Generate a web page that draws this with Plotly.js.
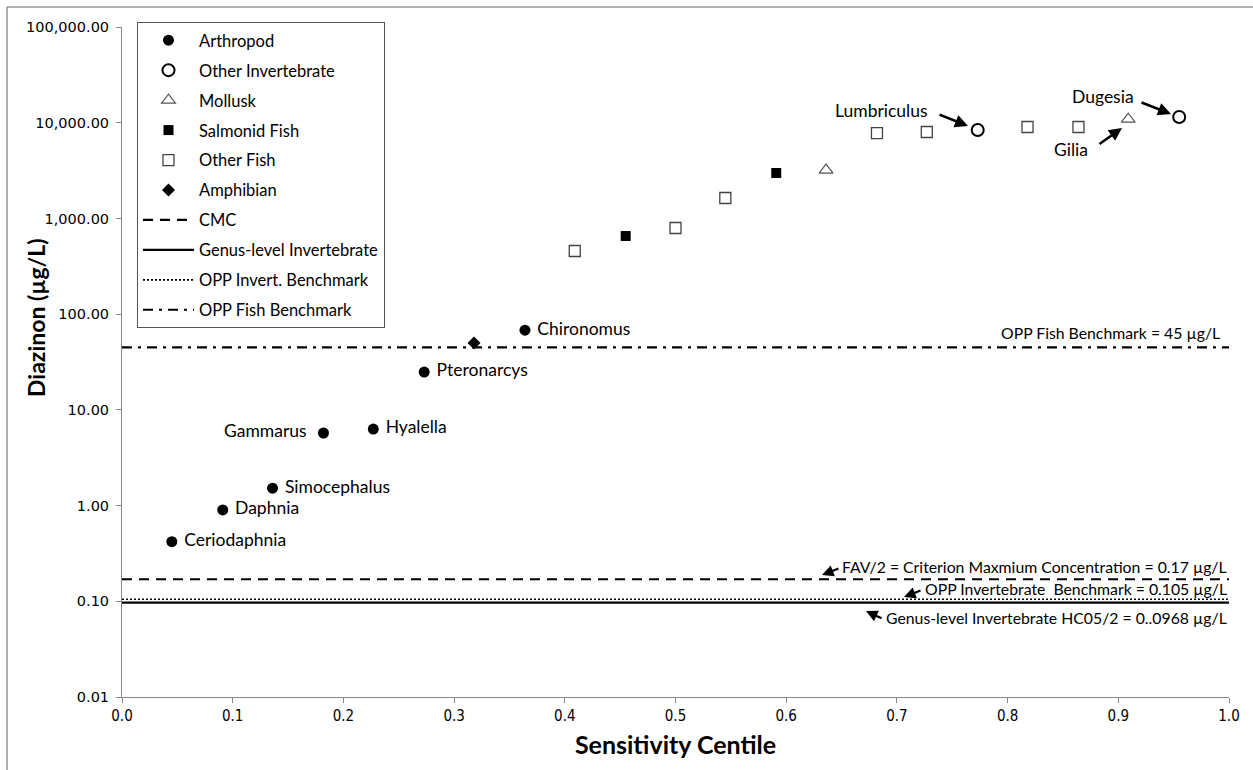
<!DOCTYPE html>
<html>
<head>
<meta charset="utf-8">
<script src="https://cdn.plot.ly/plotly-3.0.1.min.js"></script>
<style>html,body{margin:0;padding:0;background:#fff;}#chart{width:1253px;height:770px;}</style>
</head>
<body>
<div id="chart"></div>
<script>
// ---- Data ----
const arthropodX = [0.045, 0.091, 0.136, 0.182, 0.227, 0.273, 0.364];
const arthropodY = [0.42, 0.90, 1.52, 5.73, 6.3, 24.8, 68];
const arthropodNames = ["Ceriodaphnia", "Daphnia", "Simocephalus", "Gammarus", "Hyalella", "Pteronarcys", "Chironomus"];

const otherInvX = [0.773, 0.955];
const otherInvY = [8390, 11470];
const otherInvNames = ["Lumbriculus", "Dugesia"];

const molluskX = [0.636, 0.909];
const molluskY = [3200, 10900];
const molluskNames = ["", "Gilia"];

const salmonidX = [0.455, 0.591];
const salmonidY = [655, 2985];

const otherFishX = [0.409, 0.5, 0.545, 0.682, 0.727, 0.818, 0.864];
const otherFishY = [457, 794, 1634, 7800, 8000, 9020, 9020];

const amphibianX = [0.318];
const amphibianY = [50];

const cmcValue = 0.17;
const genusValue = 0.0968;
const oppInvValue = 0.105;
const oppFishValue = 45;

const yTickVals = [0.01, 0.1, 1, 10, 100, 1000, 10000, 100000];
const yTickText = ["0.01", "0.10", "1.00", "10.00", "100.00", "1,000.00", "10,000.00", "100,000.00"];
const xTickVals = [0, 0.1, 0.2, 0.3, 0.4, 0.5, 0.6, 0.7, 0.8, 0.9, 1.0];
const xTickText = ["0.0", "0.1", "0.2", "0.3", "0.4", "0.5", "0.6", "0.7", "0.8", "0.9", "1.0"];

const refLabels = [
  "OPP Fish Benchmark = 45 µg/L",
  "FAV/2 = Criterion Maxmium Concentration = 0.17 µg/L",
  "OPP Invertebrate  Benchmark = 0.105 µg/L",
  "Genus-level Invertebrate HC05/2 = 0..0968 µg/L"
];

// ---- Traces ----
const FAM = "Lato, 'Open Sans', sans-serif";
const labelFont = {family: FAM, size: 17.5, color: "#000"};
const arthPos = ["middle right","middle right","middle right","middle left","middle right","middle right","middle right"];

const traces = [
  {x: arthropodX, y: arthropodY, name: "Arthropod", mode: "markers+text", type: "scatter",
   text: arthropodNames.map((t, i) => i === 3 ? t + "  " : " " + t), textposition: arthPos, textfont: labelFont,
   marker: {symbol: "circle", size: 11, color: "#000"}, legendgroup: "g1"},
  {x: otherInvX, y: otherInvY, name: "Other Invertebrate", mode: "markers", type: "scatter",
   marker: {symbol: "circle-open", size: 12, color: "#000", line: {width: 2, color: "#000"}}, legendgroup: "g2"},
  {x: molluskX, y: molluskY, name: "Mollusk", mode: "markers", type: "scatter",
   marker: {symbol: "triangle-up-open", size: 12, color: "#555", line: {width: 1.2, color: "#555"}}, legendgroup: "g3"},
  {x: salmonidX, y: salmonidY, name: "Salmonid Fish", mode: "markers", type: "scatter",
   marker: {symbol: "square", size: 10, color: "#000"}, legendgroup: "g4"},
  {x: otherFishX, y: otherFishY, name: "Other Fish", mode: "markers", type: "scatter",
   marker: {symbol: "square-open", size: 11, color: "#444", line: {width: 1.3, color: "#444"}}, legendgroup: "g5"},
  {x: amphibianX, y: amphibianY, name: "Amphibian", mode: "markers", type: "scatter",
   marker: {symbol: "diamond", size: 10, color: "#000"}, legendgroup: "g6"},
  {x: [0, 1], y: [cmcValue, cmcValue], name: "CMC", mode: "lines", type: "scatter",
   line: {color: "#000", width: 2.2, dash: "10px,7px"}, legendgroup: "g7"},
  {x: [0, 1], y: [genusValue, genusValue], name: "Genus-level Invertebrate", mode: "lines", type: "scatter",
   line: {color: "#000", width: 2.2}, legendgroup: "g8"},
  {x: [0, 1], y: [oppInvValue, oppInvValue], name: "OPP Invert. Benchmark", mode: "lines", type: "scatter",
   line: {color: "#000", width: 1.6, dash: "2px,2px"}, legendgroup: "g9"},
  {x: [0, 1], y: [oppFishValue, oppFishValue], name: "OPP Fish Benchmark", mode: "lines", type: "scatter",
   line: {color: "#000", width: 2.2, dash: "10px,6px,3px,6px"}, legendgroup: "g10"}
];

// ---- Layout helpers ----
const W = 1253, H = 770, L = 122, R = 24, T = 27, B = 73;
const pw = W - L - R, ph = H - T - B;
const px = v => (v - L) / pw;
const py = v => (H - B - v) / ph;

const annFont = {family: FAM, size: 17.5, color: "#000"};
const refFont = {family: FAM, size: 15.8, color: "#000"};

function txt(t, x, y, xanchor, font) {
  return {xref: "paper", yref: "paper", x: px(x), y: py(y), xanchor: xanchor || "center", yanchor: "middle",
          text: t, showarrow: false, font: font};
}
function arrow(tx, ty, hx, hy, w, s) {
  return {xref: "paper", yref: "paper", x: px(hx), y: py(hy), axref: "pixel", ayref: "pixel",
          ax: tx - hx, ay: ty - hy, text: "", showarrow: true, arrowhead: 2, arrowsize: s || 1,
          arrowwidth: w, arrowcolor: "#000", standoff: 0, startstandoff: 0};
}

const annotations = [
  txt(otherInvNames[0], 881, 110, "center", annFont),
  arrow(938, 114, 968, 126, 2.6),
  txt(otherInvNames[1], 1103, 96, "center", annFont),
  arrow(1140, 102, 1171, 114, 2.6),
  txt(molluskNames[1], 1071, 150, "center", annFont),
  arrow(1098, 145, 1122, 128, 2.6),
  txt(refLabels[0], 1222, 332, "right", refFont),
  txt(refLabels[1], 1229, 566, "right", refFont),
  arrow(840, 568, 822, 575, 2.2, 1.05),
  txt(refLabels[2], 1229, 588, "right", refFont),
  arrow(922, 590, 904, 597, 2.2, 1.05),
  txt(refLabels[3], 1229, 617, "right", refFont),
  arrow(883, 619, 866, 611, 2.2, 1.05),
  {xref: "paper", yref: "paper", x: px(36), y: py(318), textangle: -90, xanchor: "center", yanchor: "middle",
   text: "<b>Diazinon (µg/L)</b>", showarrow: false, font: {family: FAM, size: 23, color: "#000"}}
];

const shapes = [
  {type: "line", xref: "paper", yref: "paper", x0: px(7), x1: px(W), y0: py(7), y1: py(7), line: {color: "#999", width: 1.5}},
  {type: "line", xref: "paper", yref: "paper", x0: px(7), x1: px(7), y0: py(7), y1: py(H), line: {color: "#999", width: 1.5}}
];

const layout = {
  width: W, height: H,
  margin: {l: L, r: R, t: T, b: B, pad: 0},
  paper_bgcolor: "#fff", plot_bgcolor: "#fff",
  showlegend: true,
  legend: {x: px(137), y: py(22), xanchor: "left", yanchor: "top", bgcolor: "#fff",
           bordercolor: "#555", borderwidth: 1, tracegroupgap: 5.5, itemwidth: 51,
           font: {family: FAM, size: 16.5, color: "#000"}},
  xaxis: {range: [0, 1], tickvals: xTickVals, ticktext: xTickText, ticks: "outside", ticklen: 5,
          tickcolor: "#888", showline: true, linecolor: "#888", linewidth: 1, showgrid: false, zeroline: false,
          tickfont: {family: "'DejaVu Sans Condensed', 'Liberation Sans Narrow', sans-serif", size: 15, color: "#000"},
          title: {text: "<b>Sensitivity Centile</b>", font: {family: FAM, size: 25, color: "#000"}, standoff: 12}},
  yaxis: {type: "log", range: [-2, 5], tickvals: yTickVals, ticktext: yTickText, ticks: "outside", ticklen: 5,
          tickcolor: "#888", showline: true, linecolor: "#888", linewidth: 1, showgrid: false, zeroline: false,
          ticklabelstandoff: 4,
          tickfont: {family: "'DejaVu Sans', Verdana, sans-serif", size: 14.5, color: "#000"}},
  annotations: annotations,
  shapes: shapes
};

Plotly.newPlot("chart", traces, layout, {displayModeBar: false, staticPlot: true});
</script>
</body>
</html>
